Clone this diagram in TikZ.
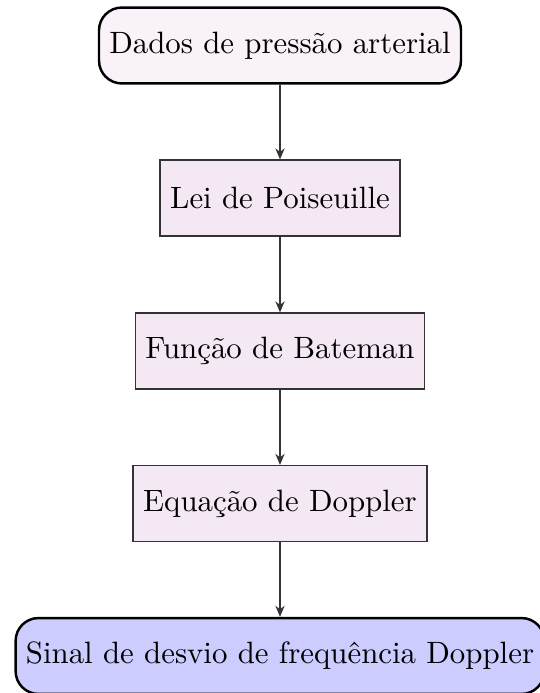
\documentclass[tikz,border=0pt]{standalone}
\usetikzlibrary{arrows.meta}
\begin{document}
\begin{tikzpicture}[x=0.3241pt,y=-0.3241pt,
  startstop/.style={draw=black, thick, rounded corners=7.4pt, minimum height=24.6pt, inner sep=3.33pt},
  procbox/.style={draw=black!80, fill=violet!9, minimum height=24.6pt, inner sep=3.33pt},
  conn/.style={draw=black!80, -{Stealth[length=3.6pt,width=3pt]}}]
\useasboundingbox (0,0) rectangle (539,693);
\node[startstop, fill=violet!5] (s) at (280,45.5) {Dados de pressão arterial};
\node[procbox] (p1) at (280,198) {Lei de Poiseuille};
\node[procbox] (p2) at (280,351) {Função de Bateman};
\node[procbox] (p3) at (280,503.5) {Equação de Doppler};
\node[startstop, fill=blue!20] (e) at (280,656) {Sinal de desvio de frequência Doppler};
\draw[conn] (s) -- (p1);
\draw[conn] (p1) -- (p2);
\draw[conn] (p2) -- (p3);
\draw[conn] (p3) -- (e);
\end{tikzpicture}
\end{document}
